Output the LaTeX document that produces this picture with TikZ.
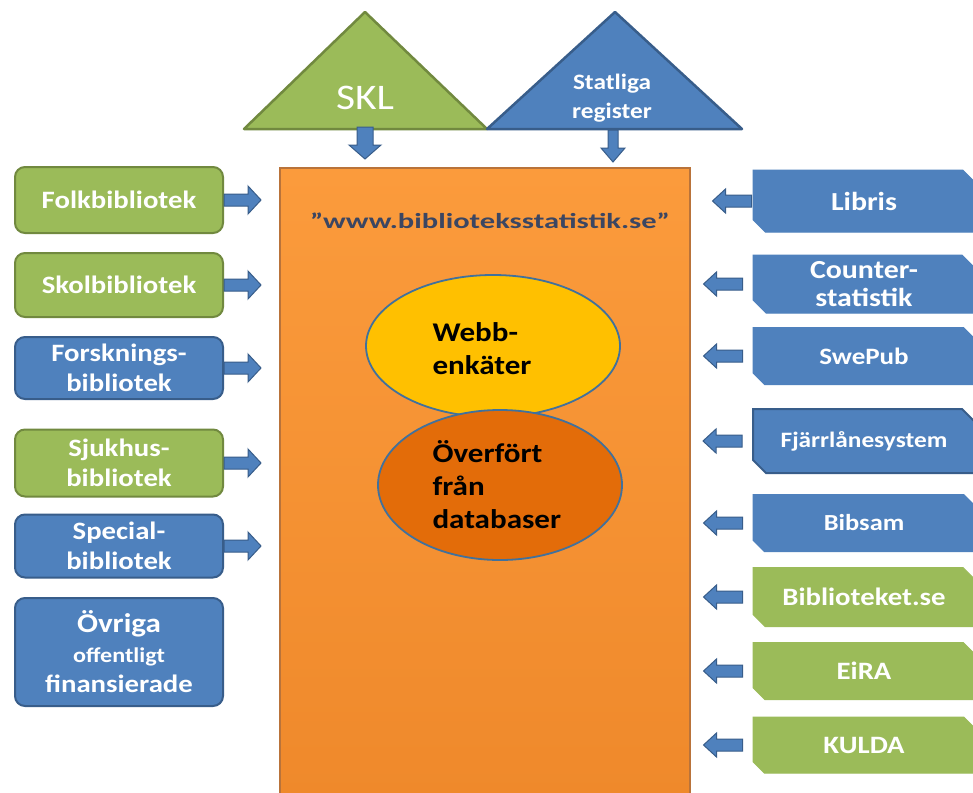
\documentclass[tikz,border=0pt]{standalone}
\usepackage{fontspec}
\setmainfont{Carlito}
\newfontfamily\cf{Carlito}[FakeStretch=1.15]
\newfontfamily\cfw{Carlito}[FakeStretch=1.42]
\usetikzlibrary{shapes.misc,shapes.geometric,calc}
\definecolor{grn}{HTML}{9BBB59}
\definecolor{grnd}{HTML}{71893F}
\definecolor{blu}{HTML}{4F81BD}
\definecolor{blud}{HTML}{385D8A}
\definecolor{orT}{HTML}{FB9B3C}
\definecolor{orB}{HTML}{EF892B}
\definecolor{orD}{HTML}{B9733A}
\definecolor{yel}{HTML}{FFC000}
\definecolor{dor}{HTML}{E36C09}
\definecolor{elb}{HTML}{41719C}
\definecolor{urlc}{HTML}{3B4662}
\tikzset{
  lbox/.style={rounded corners=10pt, minimum width=208pt, line width=2pt, text=white, align=center,
    font=\cf\bfseries\fontsize{25}{30}\selectfont, inner sep=0pt},
  gbox/.style={lbox, fill=grn, draw=grnd},
  bbox/.style={lbox, fill=blu, draw=blud},
  rbox/.style={chamfered rectangle, chamfered rectangle corners={north east,south west},
    chamfered rectangle xsep=10pt, minimum width=222pt, inner sep=0pt, text=white, align=center,
    font=\cf\bfseries\fontsize{25}{28}\selectfont, line width=1pt},
  rg/.style={rbox, fill=grn, draw=grn},
  rb/.style={rbox, fill=blu, draw=blu},
  arr/.style={fill=blu, draw=blud, line width=1pt, line join=miter},
  ell/.style={ellipse, draw=elb, line width=1.8pt, inner sep=0pt},
  etext/.style={anchor=west, align=left, text=black, font=\cf\bfseries\fontsize{27}{33}\selectfont}
}
\newcommand\barrowR[1]{\draw[arr] ($(#1)+(0,-6)$) -- ++(24,0) -- ++(0,-8) -- ++(13,14) -- ++(-13,14) -- ++(0,-8) -- ++(-24,0) -- cycle;}
\newcommand\barrowL[1]{\draw[arr] ($(#1)+(0,-6)$) -- ++(-26,0) -- ++(0,-6) -- ++(-13,12) -- ++(13,12) -- ++(0,-6) -- ++(26,0) -- cycle;}
\newcommand\barrowD[3]{\draw[arr] ($(#1)+(-#2,0)$) -- ++(0,18) -- ++(#2-#3,0) -- ++(#3,14) -- ++(#3,-14) -- ++(#2-#3,0) -- ++(0,-18) -- cycle;}
\begin{document}
\begin{tikzpicture}[x=1pt,y=-1pt]
\useasboundingbox (0,0) rectangle (973,792);
\fill[white] (0,0) rectangle (973,792);

% top triangles
\draw[fill=grn, draw=grnd, line width=2.5pt, line join=round] (244,129) -- (365,12) -- (487,129) -- cycle;
\draw[fill=blu, draw=blud, line width=2.5pt, line join=round] (487,129) -- (615,12) -- (742,129) -- cycle;
\node[text=white, font=\cf\fontsize{36}{40}\selectfont] (skl) at (365,98) {SKL};
\node[text=white, align=center, font=\cf\bfseries\fontsize{22}{29}\selectfont] (stat) at (612,98) {Statliga\\register};
\coordinate (sklbase) at (365,127);
\coordinate (statbase) at (613,130);

% central box
\node[anchor=north west, minimum width=410pt, minimum height=632pt, inner sep=0pt,
  top color=orT, bottom color=orB, draw=orD, line width=1.5pt] (web) at (279,167) {};
\node[text=urlc, font=\cfw\bfseries\fontsize{21.5}{24}\selectfont] (url) at (490,221) {”www.biblioteksstatistik.se”};

\node[ell, fill=yel, minimum width=254pt, minimum height=142pt] (webb) at (493,346) {};
\node[ell, fill=dor, minimum width=244pt, minimum height=150pt] (over) at (500,485) {};
\node[etext] (webbt) at (429,349) {Webb-\\enkäter};
\node[etext] (overt) at (429,485) {Överfört\\från\\databaser};

% left boxes
\node[gbox, minimum height=66pt] (folk) at (119,200) {Folkbibliotek};
\node[gbox, minimum height=64pt] (skol) at (119,285) {Skolbibliotek};
\node[bbox, minimum height=62pt] (forsk) at (119,368) {Forsknings-\\bibliotek};
\node[gbox, minimum height=67pt] (sjuk) at (119,463) {Sjukhus-\\bibliotek};
\node[bbox, minimum height=63pt] (spec) at (119,546) {Special-\\bibliotek};
\node[bbox, minimum height=108pt] (ovr) at (119,652) {\fontsize{27}{32}\selectfont Övriga\\\fontsize{21}{31}\selectfont offentligt\\finansierade};

\barrowR{folk.east}
\barrowR{skol.east}
\barrowR{forsk.east}
\barrowR{sjuk.east}
\barrowR{spec.east}

% right boxes
\node[rb, minimum height=62pt, font=\cf\bfseries\fontsize{26}{28}\selectfont] (libris) at (864,201) {Libris};
\node[rb, minimum height=58pt, font=\cf\bfseries\fontsize{26}{28}\selectfont] (counter) at (864,284) {Counter-\\statistik};
\node[rb, minimum height=57pt, font=\cf\bfseries\fontsize{23.5}{28}\selectfont] (swepub) at (864,356) {SwePub};
\node[rb, minimum height=64pt, draw=blud, line width=2pt, font=\cf\bfseries\fontsize{22}{28}\selectfont] (fjarr) at (864,441) {Fjärrlånesystem};
\node[rb, minimum height=57pt, font=\cf\bfseries\fontsize{23}{28}\selectfont] (bibsam) at (864,523) {Bibsam};
\node[rg, minimum height=59pt] (biblse) at (864,597) {Biblioteket.se};
\node[rg, minimum height=57pt] (eira) at (864,671) {EiRA};
\node[rg, minimum height=56pt] (kulda) at (864,745) {KULDA};

\barrowL{$(libris.west)+(-1,0)$}
\barrowL{$(counter.west)+(-10,0)$}
\barrowL{$(swepub.west)+(-10,0)$}
\barrowL{$(fjarr.west)+(-10,0)$}
\barrowL{$(bibsam.west)+(-10,0)$}
\barrowL{$(biblse.west)+(-10,0)$}
\barrowL{$(eira.west)+(-10,0)$}
\barrowL{$(kulda.west)+(-10,0)$}

% down arrows
\barrowD{sklbase}{8}{16}
\barrowD{statbase}{5}{12}
\end{tikzpicture}
\end{document}
